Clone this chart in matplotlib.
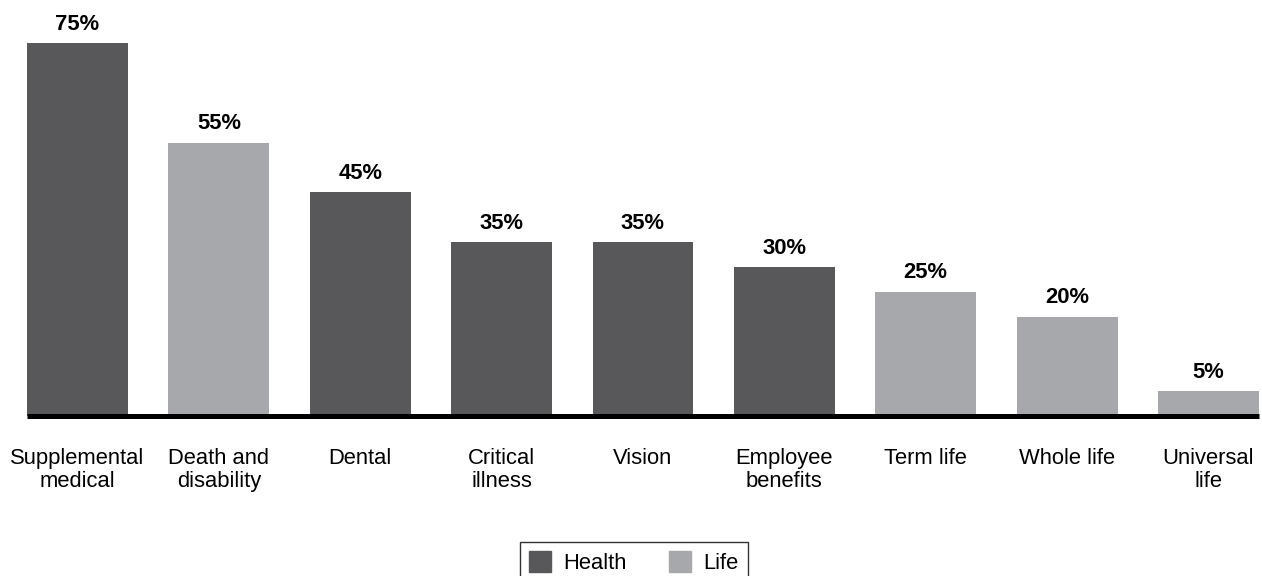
import matplotlib.pyplot as plt
from matplotlib.patches import Patch

plt.rcParams['font.family'] = ['Liberation Sans', 'DejaVu Sans']

categories = ['Supplemental\nmedical', 'Death and\ndisability', 'Dental', 'Critical\nillness',
              'Vision', 'Employee\nbenefits', 'Term life', 'Whole life', 'Universal\nlife']
values = [75, 55, 45, 35, 35, 30, 25, 20, 5]
groups = ['Health', 'Life', 'Health', 'Health', 'Health', 'Health', 'Life', 'Life', 'Life']

colors = {'Health': '#58585a', 'Life': '#a7a8ab'}

fig = plt.figure(figsize=(12.62, 5.76), dpi=100)
ax = fig.add_axes([0.0214, 0.2778, 0.9762, 0.7222])

x = list(range(len(categories)))
bars = ax.bar(x, values, width=0.714, color=[colors[g] for g in groups])
ax.bar_label(bars, labels=[f'{v}%' for v in values], padding=6,
             fontsize=15.8, fontweight='bold')

ax.set_xlim(-0.357, len(categories) - 1 + 0.357)
ax.set_ylim(0, 83.7)
ax.set_xticks(x)
ax.set_xticklabels(categories, fontsize=15.8, linespacing=1.15)
ax.tick_params(axis='x', length=0, pad=23)
ax.set_yticks([])

for side in ['top', 'right', 'left']:
    ax.spines[side].set_visible(False)
ax.spines['bottom'].set_linewidth(3.6)
ax.spines['bottom'].set_color('black')
ax.spines['bottom'].set_capstyle('butt')

handles = [Patch(color=colors['Health'], label='Health'),
           Patch(color=colors['Life'], label='Life')]
leg = fig.legend(handles=handles, ncol=2, loc='upper center',
                 bbox_to_anchor=(634 / 1262, 1 - 542 / 576), borderaxespad=0,
                 fontsize=15.8, frameon=True, fancybox=False,
                 edgecolor='black', handlelength=1.0, handleheight=1.05,
                 handletextpad=0.55, columnspacing=1.95, borderpad=0.42)
leg.get_frame().set_linewidth(1.0)

fig.savefig('out.png', dpi=100)
